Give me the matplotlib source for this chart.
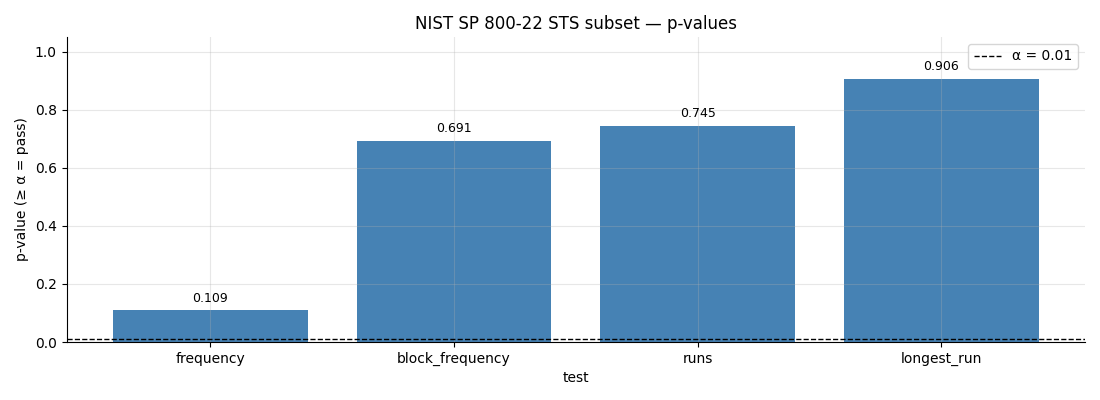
import matplotlib
matplotlib.use("Agg")
import matplotlib.pyplot as plt

tests = ["frequency", "block_frequency", "runs", "longest_run"]
p_values = [0.109, 0.691, 0.745, 0.906]
alpha = 0.01

fig, ax = plt.subplots(figsize=(11, 4), dpi=100)
bars = ax.bar(tests, p_values, color="steelblue", width=0.8)
ax.axhline(alpha, color="black", linestyle="--", linewidth=1, label="α = 0.01")

for b, v in zip(bars, p_values):
    ax.text(b.get_x() + b.get_width() / 2, v + 0.02, f"{v:.3f}",
            ha="center", va="bottom", fontsize=9)

ax.set_ylim(0, 1.05)
ax.set_title("NIST SP 800-22 STS subset — p-values")
ax.set_xlabel("test")
ax.set_ylabel("p-value (≥ α = pass)")
ax.grid(True, alpha=0.3)
ax.spines["top"].set_visible(False)
ax.spines["right"].set_visible(False)
ax.legend(loc="upper right")

fig.subplots_adjust(left=0.0605, right=0.9865, top=0.9075, bottom=0.145)
fig.savefig("out.png")
